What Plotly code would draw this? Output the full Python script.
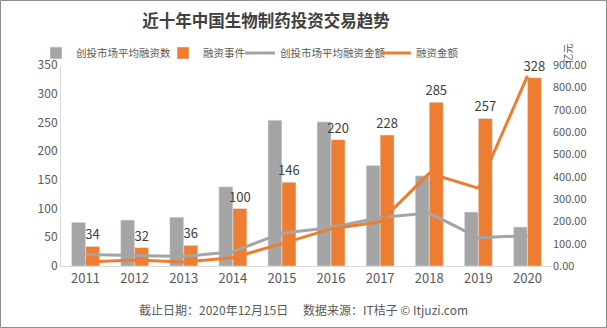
import plotly.graph_objects as go

years = ["2011", "2012", "2013", "2014", "2015", "2016", "2017", "2018", "2019", "2020"]
avg_deals = [76, 80, 85, 138, 254, 251, 175, 157, 94, 68]
deal_events = [34, 32, 36, 100, 146, 220, 228, 285, 257, 328]
avg_amount = [52, 46, 43, 64, 147, 172, 217, 237, 127, 136]
amount = [18, 27, 18, 37, 100, 166, 198, 415, 348, 851]

GREY = "#A5A5A5"
ORANGE = "#ED7D31"
FONT = "Noto Sans CJK SC"
W, H = 607, 328
L, R, T, B = 61, 55, 65, 62
pw, ph = W - L - R, H - T - B

fig = go.Figure()
fig.add_trace(go.Bar(x=years, y=avg_deals, name="创投市场平均融资数", marker_color=GREY,
                     yaxis="y", legend="legend"))
fig.add_trace(go.Bar(x=years, y=deal_events, name="融资事件", marker_color=ORANGE,
                     yaxis="y", text=[str(v) for v in deal_events], textposition="outside",
                     constraintext="none", textangle=0, legend="legend2",
                     textfont=dict(size=13, color="#404040", family=FONT), cliponaxis=False))
fig.add_trace(go.Scatter(x=years, y=avg_amount, name="创投市场平均融资金额", mode="lines",
                         line=dict(color=GREY, width=3), yaxis="y2", legend="legend3"))
fig.add_trace(go.Scatter(x=years, y=amount, name="融资金额", mode="lines",
                         line=dict(color=ORANGE, width=3), yaxis="y2", legend="legend4"))


def leg(text_start_px):
    return dict(orientation="h", x=(text_start_px - 39 - L) / pw, xanchor="left",
                y=1 + (T - 53) / ph, yanchor="middle",
                font=dict(size=10.5, color="#595959"), bgcolor="rgba(0,0,0,0)", itemwidth=30)


fig.update_layout(
    width=W, height=H,
    margin=dict(l=L, r=R, t=T, b=B),
    paper_bgcolor="white", plot_bgcolor="white",
    font=dict(family=FONT, color="#595959", size=12),
    barmode="group", bargap=0.43, bargroupgap=0,
    title=dict(text="<b>近十年中国生物制药投资交易趋势</b>", x=(266) / W, xanchor="center",
               y=1 - 21 / H, yanchor="middle", font=dict(size=16.5, color="#404040", family=FONT)),
    legend=leg(75), legend2=leg(202), legend3=leg(279), legend4=leg(415),
    xaxis=dict(showgrid=False, showline=True, linecolor="#D9D9D9", linewidth=1,
               ticks="", tickfont=dict(size=13, color="#595959")),
    yaxis=dict(range=[0, 350], dtick=50, showgrid=False, showline=True, linecolor="#D9D9D9",
               linewidth=1, ticks="", tickfont=dict(size=12, color="#595959"), zeroline=False),
    yaxis2=dict(range=[0, 900], dtick=100, overlaying="y", side="right", showgrid=False,
                showline=False, tickformat=".2f", ticks="", tickfont=dict(size=11, color="#595959"),
                zeroline=False),
    showlegend=True,
)

fig.add_annotation(text="亿元", xref="paper", yref="paper", x=(577 - L) / pw, y=1 + (T - 42) / ph,
                   showarrow=False, textangle=-90, font=dict(size=10, color="#595959"))
fig.add_annotation(text="截止日期：2020年12月15日　 数据来源：IT桔子 © Itjuzi.com", xref="paper", yref="paper",
                   x=(303 - L) / pw, y=-(309 - (T + ph)) / ph, showarrow=False, yanchor="middle",
                   font=dict(size=12, color="#595959"))
fig.add_shape(type="rect", xref="paper", yref="paper",
              x0=(0.5 - L) / pw, x1=(W - 0.5 - L) / pw,
              y0=-(H - 0.5 - T - ph) / ph, y1=1 + (T - 0.5) / ph,
              line=dict(color="#8C8C8C", width=1), layer="below")

fig.write_html("out.html")
